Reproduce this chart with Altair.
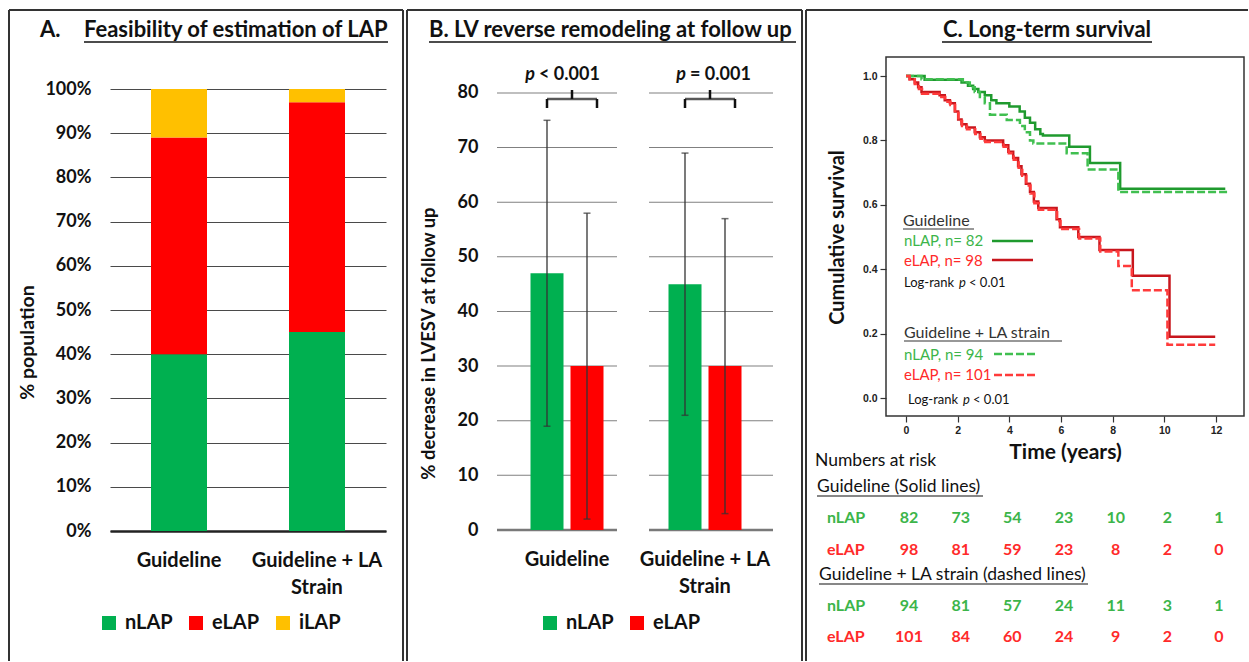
import altair as alt
import pandas as pd

FONT = "Lato"

# ---------------- data ----------------
groups = ["Guideline", "Guideline + LA Strain"]

# Panel A: feasibility (% population)
lap_cats = ["nLAP", "eLAP", "iLAP"]
lap_colors = ["#00b050", "#ff0000", "#ffc000"]
pct_guideline = [40, 49, 11]
pct_la_strain = [45, 52, 3]
y_ticks_a = [0, 10, 20, 30, 40, 50, 60, 70, 80, 90, 100]

# Panel B: LV reverse remodeling
remod_cats = ["nLAP", "eLAP"]
remod_colors = ["#00b050", "#ff0000"]
remod_mean_guideline = [47, 30]
remod_lo_guideline = [19, 2]
remod_hi_guideline = [75, 58]
remod_mean_la = [45, 30]
remod_lo_la = [21, 3]
remod_hi_la = [69, 57]
p_values = ["< 0.001", "= 0.001"]
y_ticks_b = [0, 10, 20, 30, 40, 50, 60, 70, 80]

# Panel C: Kaplan-Meier curves (time in years, cumulative survival)
km_ids = ["Guideline nLAP", "Guideline eLAP", "LA strain nLAP", "LA strain eLAP"]
km_colors = ["#1f9a2e", "#c8161d", "#40bf50", "#ff3b3b"]
g_n_t = [0, 0.72, 2.15, 2.4, 2.6, 2.8, 3.05, 3.3, 3.5, 4.0, 4.4, 4.6, 4.8, 5.0, 5.2, 5.3, 6.32, 7.12, 8.29, 12.36]
g_n_s = [1.0, 0.988, 0.98, 0.97, 0.96, 0.95, 0.94, 0.925, 0.915, 0.905, 0.89, 0.87, 0.855, 0.835, 0.82, 0.815, 0.78, 0.73, 0.65, 0.65]
g_e_t = [0, 0.14, 0.34, 0.47, 0.6, 1.3, 1.5, 1.7, 1.89, 2.02, 2.15, 2.34, 2.66, 2.86, 3.05, 3.76, 3.96, 4.15, 4.34, 4.47, 4.64, 4.8, 4.95, 5.12, 5.83, 5.96, 6.67, 7.49, 8.78, 10.2, 11.97]
g_e_s = [1.0, 0.99, 0.98, 0.965, 0.95, 0.94, 0.925, 0.915, 0.89, 0.865, 0.85, 0.84, 0.825, 0.81, 0.80, 0.785, 0.765, 0.745, 0.72, 0.695, 0.665, 0.64, 0.61, 0.59, 0.555, 0.53, 0.50, 0.46, 0.38, 0.19, 0.19]
l_n_t = [0, 0.6, 2.2, 2.47, 2.66, 2.86, 3.05, 3.25, 3.9, 4.41, 4.6, 4.8, 4.93, 6.22, 7.03, 8.22, 12.53]
l_n_s = [1.0, 0.99, 0.98, 0.965, 0.95, 0.935, 0.915, 0.88, 0.863, 0.845, 0.825, 0.80, 0.79, 0.76, 0.71, 0.64, 0.64]
l_e_t = [0, 0.14, 0.34, 0.5, 0.62, 1.28, 1.52, 1.72, 1.9, 2.03, 2.17, 2.36, 2.68, 2.88, 3.07, 3.78, 3.98, 4.17, 4.36, 4.5, 4.66, 4.82, 4.97, 5.14, 5.85, 5.98, 6.7, 7.52, 8.22, 8.74, 10.12, 11.97]
l_e_s = [1.0, 0.99, 0.975, 0.96, 0.945, 0.935, 0.92, 0.91, 0.885, 0.86, 0.845, 0.835, 0.82, 0.805, 0.795, 0.78, 0.76, 0.74, 0.715, 0.69, 0.66, 0.635, 0.605, 0.585, 0.55, 0.525, 0.495, 0.455, 0.41, 0.335, 0.165, 0.165]
x_ticks_c = [0, 2, 4, 6, 8, 10, 12]
y_ticks_c = [0.0, 0.2, 0.4, 0.6, 0.8, 1.0]

# Numbers at risk
risk_times = [0, 2, 4, 6, 8, 10, 12]
risk_g_nlap = [82, 73, 54, 23, 10, 2, 1]
risk_g_elap = [98, 81, 59, 23, 8, 2, 0]
risk_l_nlap = [94, 81, 57, 24, 11, 3, 1]
risk_l_elap = [101, 84, 60, 24, 9, 2, 0]

# ---------------- layout (canvas pixels) ----------------
W_A, H_A = 276, 474
W_B, H_B = 276, 473
W_C, H_C = 358, 359
SP = 112
OY = 57
OA = (110, OY)
OB = (110 + W_A + SP, OY)
OC = (OB[0] + W_B + SP, OY)
GREEN_T = "#3cb54a"
RED_T = "#ff2a2a"
INK = "#111111"


def tx(origin, label, x, y, size, weight="normal", color=INK, align="left", style="normal", font=FONT):
    ox, oy = origin
    return alt.Chart(pd.DataFrame({"label": [label]})).mark_text(
        align=align, baseline="middle", fontSize=size, fontWeight=weight,
        color=color, font=font, fontStyle=style
    ).encode(text="label:N", x=alt.value(x - ox), y=alt.value(y - oy))


def ln(origin, x1, y1, x2, y2, color="#333333", width=2.0, dash=None):
    ox, oy = origin
    kw = dict(color=color, strokeWidth=width)
    if dash is not None:
        kw["strokeDash"] = dash
    return alt.Chart(pd.DataFrame({"k": [0]})).mark_rule(**kw).encode(
        x=alt.value(x1 - ox), x2=alt.value(x2 - ox), y=alt.value(y1 - oy), y2=alt.value(y2 - oy)
    )


ML_EXPR = "datum.value == 'Guideline + LA Strain' ? ['Guideline + LA', 'Strain'] : datum.value"

# ---------------- Panel A ----------------
rowsA = []
for g, vals in zip(groups, [pct_guideline, pct_la_strain]):
    for i, (c, v) in enumerate(zip(lap_cats, vals)):
        rowsA.append({"grpA": g, "catA": c, "pct": v, "ord": i})
dfA = pd.DataFrame(rowsA)

# invisible canvas-sized rectangle fixing the page extent
bg = alt.Chart(pd.DataFrame({"k": [0]})).mark_rect(color="white", opacity=0).encode(
    x=alt.value(-OA[0]), x2=alt.value(1249 - OA[0]), y=alt.value(-OA[1]), y2=alt.value(662 - OA[1])
)

barsA = alt.Chart(dfA).mark_bar(width=56).encode(
    x=alt.X("grpA:N", sort=groups, scale=alt.Scale(domain=groups, paddingInner=0, paddingOuter=0),
            axis=alt.Axis(title=None, labelAngle=0, ticks=False, domain=True, domainColor="#222222",
                          domainWidth=2.5, labelPadding=19, labelFont=FONT, labelFontSize=20,
                          labelFontWeight="bold", labelColor=INK, labelLineHeight=27,
                          labelExpr=ML_EXPR, labelLimit=300)),
    y=alt.Y("pct:Q", stack="zero", scale=alt.Scale(domain=[0, 107.24], nice=False, zero=False),
            axis=alt.Axis(values=y_ticks_a, labelExpr="datum.value + '%'", grid=True, gridColor="#4a4a4a",
                          gridWidth=1, domain=False, ticks=False, labelPadding=19, labelFont=FONT,
                          labelFontSize=18, labelFontWeight="bold", labelColor=INK,
                          title="% population", titleX=27 - OA[0], titleY=342 - OY, titleAngle=270,
                          titleBaseline="middle", titleAlign="center", titleFont=FONT, titleFontSize=19.5,
                          titleFontWeight="bold", titleColor=INK)),
    color=alt.Color("catA:N", scale=alt.Scale(domain=lap_cats, range=lap_colors),
                    legend=alt.Legend(title=None, orient="none", legendX=99 - OA[0], legendY=613 - OY,
                                      direction="horizontal", symbolType="square", symbolSize=196,
                                      symbolStrokeWidth=0, labelFont=FONT, labelFontSize=20,
                                      labelFontWeight="bold", labelColor=INK, columnPadding=13,
                                      labelOffset=6, padding=0)),
    order=alt.Order("ord:Q"),
)

framesA = [
    ln(OA, 9, 10, 403, 10), ln(OA, 9, 10, 9, 661), ln(OA, 403, 10, 403, 661),
    ln(OA, 407, 10, 802, 10), ln(OA, 407, 10, 407, 661), ln(OA, 802, 10, 802, 661),
    ln(OA, 806, 10, 1248, 10), ln(OA, 806, 10, 806, 661),
]
titleA = [
    tx(OA, "A.", 40, 30, 22, "bold"),
    tx(OA, "Feasibility of estimation of LAP", 84, 30, 22, "bold"),
    ln(OA, 84, 42, 388, 42, color=INK, width=1.6),
]
panelA = alt.layer(bg, *framesA, barsA, *titleA).properties(width=W_A, height=H_A)

# ---------------- Panel B ----------------
rowsB = []
for g, m, lo, hi in zip(groups, [remod_mean_guideline, remod_mean_la], [remod_lo_guideline, remod_lo_la],
                        [remod_hi_guideline, remod_hi_la]):
    for c, mv, lv, hv in zip(remod_cats, m, lo, hi):
        rowsB.append({"grpB": g, "series": c, "mean": mv, "lo": lv, "hi": hv})
dfB = pd.DataFrame(rowsB)
dfGrid = pd.DataFrame([{"grpB": g, "lvl": v} for g in groups for v in y_ticks_b])
dfBr = pd.DataFrame({"grpB": groups, "p": p_values})

xB = alt.X("grpB:N", sort=groups, scale=alt.Scale(domain=groups, paddingInner=0, paddingOuter=0),
           axis=alt.Axis(title=None, labelAngle=0, ticks=False, domain=False, labelPadding=19,
                         labelFont=FONT, labelFontSize=20, labelFontWeight="bold", labelColor=INK,
                         labelLineHeight=27, labelExpr=ML_EXPR, labelLimit=300))
xoB = alt.XOffset("series:N", sort=remod_cats,
                  scale=alt.Scale(domain=remod_cats, paddingInner=0.175, paddingOuter=0.8125))
ysB = alt.Scale(domain=[0, 86.59], nice=False, zero=False)
yAxB = alt.Axis(values=y_ticks_b, grid=False, domain=False, ticks=False, labelPadding=20, labelFont=FONT,
                labelFontSize=18, labelFontWeight="bold", labelColor=INK,
                title="% decrease in LVESV at follow up", titleX=428 - OB[0], titleY=343 - OY,
                titleAngle=270, titleBaseline="middle", titleAlign="center", titleFont=FONT,
                titleFontSize=18.5, titleFontWeight="bold", titleColor=INK)

gridB = []
for g, shift, size in zip(groups, [-10, 6], [120, 124]):
    gridB.append(alt.Chart(dfGrid).transform_filter((alt.datum.grpB == g) & (alt.datum.lvl > 0))
                 .mark_tick(size=size, thickness=1, color="#4a4a4a", xOffset=shift)
                 .encode(x=xB, y=alt.Y("lvl:Q", scale=ysB, axis=yAxB)))
    gridB.append(alt.Chart(dfGrid).transform_filter((alt.datum.grpB == g) & (alt.datum.lvl == 0))
                 .mark_tick(size=size, thickness=2.5, color="#404040", xOffset=shift)
                 .encode(x=xB, y=alt.Y("lvl:Q", scale=ysB, axis=yAxB)))

baseB = alt.Chart(dfB).encode(x=xB, xOffset=xoB)
barsB = baseB.mark_bar().encode(
    y=alt.Y("mean:Q", scale=ysB, axis=yAxB),
    color=alt.Color("series:N", scale=alt.Scale(domain=remod_cats, range=remod_colors),
                    legend=alt.Legend(title=None, orient="none", legendX=540 - OB[0], legendY=613 - OY,
                                      direction="horizontal", symbolType="square", symbolSize=196,
                                      symbolStrokeWidth=0, labelFont=FONT, labelFontSize=20,
                                      labelFontWeight="bold", labelColor=INK, columnPadding=13,
                                      labelOffset=6, padding=0)),
)
errB = baseB.mark_rule(color="#333333", strokeWidth=1.3).encode(
    y=alt.Y("lo:Q", scale=ysB, axis=yAxB), y2="hi:Q")
capHi = baseB.mark_tick(size=7, thickness=1.5, color="#333333").encode(y=alt.Y("hi:Q", scale=ysB, axis=yAxB))
capLo = baseB.mark_tick(size=7, thickness=1.5, color="#333333").encode(y=alt.Y("lo:Q", scale=ysB, axis=yAxB))

BR_TOP, BR_LEG, BR_NUB = 78.9, 77.25, 80.55
brB = alt.Chart(dfBr).transform_calculate(top=str(BR_TOP), leg=str(BR_LEG), nub=str(BR_NUB))
bracket = [
    brB.mark_tick(size=50, thickness=2.5, color=INK, xOffset=5).encode(
        x=xB, y=alt.Y("top:Q", scale=ysB, axis=yAxB)),
    brB.mark_rule(strokeWidth=2.5, color=INK, xOffset=-20).encode(
        x=xB, y=alt.Y("top:Q", scale=ysB, axis=yAxB), y2="leg:Q"),
    brB.mark_rule(strokeWidth=2.5, color=INK, xOffset=30).encode(
        x=xB, y=alt.Y("top:Q", scale=ysB, axis=yAxB), y2="leg:Q"),
    brB.mark_rule(strokeWidth=2.5, color=INK, xOffset=5).encode(
        x=xB, y=alt.Y("top:Q", scale=ysB, axis=yAxB), y2="nub:Q"),
]
ptext = []
for g, dp, dr in zip(groups, [-32, -19], [-28, -15]):
    sub = alt.Chart(dfBr).transform_filter(alt.datum.grpB == g)
    ptext.append(sub.transform_calculate(pl="'p'").mark_text(
        align="right", baseline="middle", font=FONT, fontSize=18, fontWeight="bold", fontStyle="italic",
        color=INK, dx=dp).encode(x=xB, y=alt.value(75 - OY), text="pl:N"))
    ptext.append(sub.mark_text(
        align="left", baseline="middle", font=FONT, fontSize=18, fontWeight="bold",
        color=INK, dx=dr).encode(x=xB, y=alt.value(75 - OY), text="p:N"))

titleB = [
    tx(OB, "B. LV reverse remodeling at follow up", 429, 30, 22, "bold"),
    ln(OB, 429, 42, 796, 42, color=INK, width=1.6),
]
panelB = alt.layer(*gridB, barsB, errB, capHi, capLo, *bracket, *ptext, *titleB).properties(
    width=W_B, height=H_B)

# ---------------- Panel C ----------------
rowsC = []
for cid, ts, ss in zip(km_ids, [g_n_t, g_e_t, l_n_t, l_e_t], [g_n_s, g_e_s, l_n_s, l_e_s]):
    for t, s in zip(ts, ss):
        rowsC.append({"curve": cid, "t": t, "s": s})
dfC = pd.DataFrame(rowsC)

xsC = alt.Scale(domain=[(OC[0] - 906) / 25.833, (OC[0] + W_C - 906) / 25.833], nice=False, zero=False)
ysC = alt.Scale(domain=[-18 / 322, 1 + 19 / 322], nice=False, zero=False)
xAxC = alt.Axis(values=x_ticks_c, grid=False, domain=False, ticks=True, tickSize=6, tickColor="#333333",
                tickWidth=1.2, labelPadding=3, labelFont="Liberation Sans", labelFontSize=10.5,
                labelFontWeight="bold", labelColor="#222222", title="Time (years)",
                titleX=1065 - OC[0], titleY=452 - 416, titleBaseline="middle", titleAlign="center",
                titleFont=FONT, titleFontSize=21, titleFontWeight="bold", titleColor=INK)
yAxC = alt.Axis(values=y_ticks_c, format=".1f", grid=False, domain=False, ticks=True, tickSize=6,
                tickColor="#333333", tickWidth=1.2, labelPadding=3, labelFont="Liberation Sans",
                labelFontSize=10.5, labelFontWeight="bold", labelColor="#222222",
                title="Cumulative survival", titleX=837 - OC[0], titleY=237 - OY, titleAngle=270,
                titleBaseline="middle", titleAlign="center", titleFont=FONT, titleFontSize=20,
                titleFontWeight="bold", titleColor=INK)

km = alt.Chart(dfC).mark_line(interpolate="step-after", strokeWidth=2.5).encode(
    x=alt.X("t:Q", scale=xsC, axis=xAxC),
    y=alt.Y("s:Q", scale=ysC, axis=yAxC),
    color=alt.Color("curve:N", scale=alt.Scale(domain=km_ids, range=km_colors), legend=None),
    strokeDash=alt.StrokeDash("curve:N", scale=alt.Scale(domain=km_ids, range=[[1, 0], [1, 0], [8, 3], [8, 3]]),
                              legend=None),
)
boxC = alt.Chart(pd.DataFrame({"k": [0]})).mark_rect(fillOpacity=0, stroke="#333333", strokeWidth=1.5).encode(
    x=alt.value(0), x2=alt.value(W_C), y=alt.value(0), y2=alt.value(H_C))

legC = [
    tx(OC, "Guideline", 903, 221, 16, color="#333333"),
    ln(OC, 903, 229, 974, 229, color="#333333", width=1.2),
    tx(OC, "nLAP, n= 82", 904, 241, 15, color=GREEN_T),
    ln(OC, 992, 241, 1033, 241, color=km_colors[0], width=2.5),
    tx(OC, "eLAP, n= 98", 904, 261, 15, color=RED_T),
    ln(OC, 992, 260, 1033, 260, color=km_colors[1], width=2.5),
    tx(OC, "Log-rank", 904, 283, 13, color=INK),
    tx(OC, "p", 959, 283, 13, color=INK, style="italic"),
    tx(OC, "< 0.01", 969, 283, 13, color=INK),
    tx(OC, "Guideline + LA strain", 904, 333, 16, color="#333333"),
    ln(OC, 904, 341, 1062, 341, color="#333333", width=1.2),
    tx(OC, "nLAP, n= 94", 904, 355, 15, color=GREEN_T),
    ln(OC, 994, 354, 1036, 354, color=km_colors[2], width=2.5, dash=[8, 3]),
    tx(OC, "eLAP, n= 101", 904, 375, 15, color=RED_T),
    ln(OC, 994, 375, 1036, 375, color=km_colors[3], width=2.5, dash=[8, 3]),
    tx(OC, "Log-rank", 908, 400, 13, color=INK),
    tx(OC, "p", 963, 400, 13, color=INK, style="italic"),
    tx(OC, "< 0.01", 973, 400, 13, color=INK),
]

riskC = [
    tx(OC, "Numbers at risk", 815, 461, 17.5, color=INK),
    tx(OC, "Guideline (Solid lines)", 817, 487, 17.5, color=INK),
    ln(OC, 817, 496, 983, 496, color=INK, width=1.2),
    tx(OC, "Guideline + LA strain (dashed lines)", 819, 575, 17.5, color=INK),
    ln(OC, 819, 584, 1088, 584, color=INK, width=1.2),
]
for lab, counts, ypix, col in zip(["nLAP", "eLAP", "nLAP", "eLAP"],
                                   [risk_g_nlap, risk_g_elap, risk_l_nlap, risk_l_elap],
                                   [518, 550, 606, 637], [GREEN_T, RED_T, GREEN_T, RED_T]):
    riskC.append(tx(OC, lab, 827, ypix, 16, "bold", color=col))
    riskC.append(alt.Chart(pd.DataFrame({"t": risk_times, "n": counts})).mark_text(
        align="center", baseline="middle", font=FONT, fontSize=16, fontWeight="bold", color=col, dx=3
    ).encode(x=alt.X("t:Q", scale=xsC, axis=xAxC), y=alt.value(ypix - OY), text="n:Q"))

titleC = [
    tx(OC, "C. Long-term survival", 1047, 30, 22, "bold", align="center"),
    ln(OC, 942, 42, 1152, 42, color=INK, width=1.6),
]
panelC = alt.layer(km, boxC, *legC, *riskC, *titleC).properties(width=W_C, height=H_C)

chart = alt.hconcat(panelA, panelB, panelC, spacing=SP, bounds="flush").resolve_scale(
    color="independent", strokeDash="independent").resolve_legend(color="independent").properties(
    padding=0).configure(font=FONT).configure_view(strokeWidth=0)

chart.save("out.html", embed_options={"renderer": "svg", "actions": False})
